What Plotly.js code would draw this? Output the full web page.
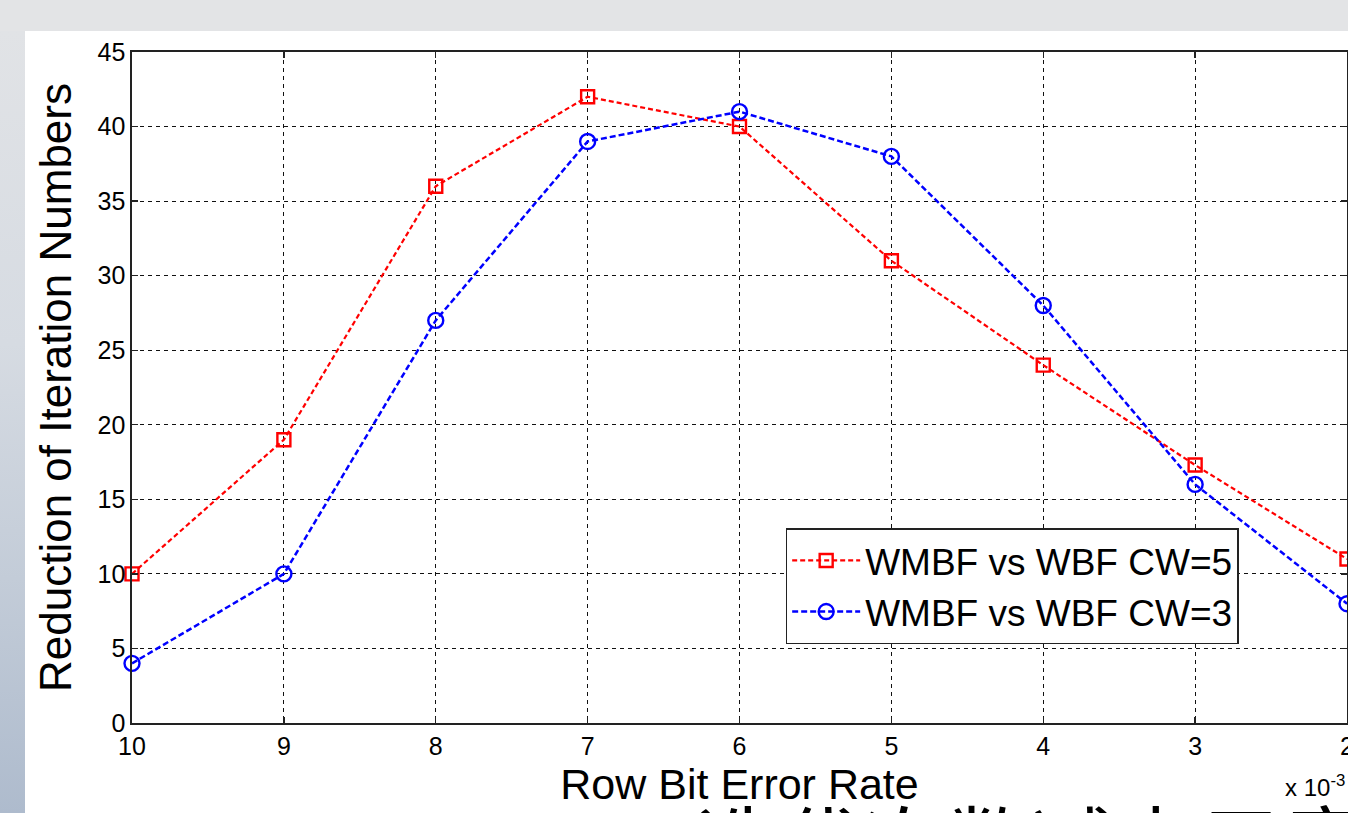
<!DOCTYPE html>
<html>
<head>
<meta charset="utf-8">
<script src="https://cdn.plot.ly/plotly-3.0.1.min.js"></script>
<style>
  html, body { margin:0; padding:0; width:1348px; height:813px; overflow:hidden; background:#e3e4e6; }
  #strip { position:absolute; left:0; top:31px; width:25px; height:782px;
           background:linear-gradient(to bottom, #e1e3e6 0%, #d6dbe2 40%, #c3ccd8 70%, #aebbcd 100%); }
  #chart { position:absolute; left:25px; top:31px; width:1450px; height:900px; }
</style>
</head>
<body>
<div id="strip"></div>
<div id="chart"></div>
<script>
// Row bit error rate (x 10^-3)
const berTicks = [10, 9, 8, 7, 6, 5, 4, 3, 2];
const cw5Values = [10, 19, 36, 42, 40, 31, 24, 17.3, 11];
const cw3Values = [4, 10, 27, 39, 41, 38, 28, 16, 8];
const seriesNames = ["WMBF vs WBF CW=5", "WMBF vs WBF CW=3"];
const yTicks = [0, 5, 10, 15, 20, 25, 30, 35, 40, 45];

const FONT = "Liberation Sans, Arial, sans-serif";

const traces = [
  {
    x: berTicks, y: cw5Values, name: seriesNames[0], type: "scatter", mode: "lines+markers",
    line: {color: "#ff0000", width: 2.2, dash: "5px,3px"},
    marker: {symbol: "square-open", size: 13, color: "#ff0000", line: {width: 2.4, color: "#ff0000"}},
    cliponaxis: false
  },
  {
    x: berTicks, y: cw3Values, name: seriesNames[1], type: "scatter", mode: "lines+markers",
    line: {color: "#0000ff", width: 2.5, dash: "6px,3px"},
    marker: {symbol: "circle-open", size: 15, color: "#0000ff", line: {width: 2.4, color: "#0000ff"}},
    cliponaxis: false
  }
];

const axisCommon = {
  showline: true, linecolor: "#222", linewidth: 1.6, mirror: "ticks",
  ticks: "inside", ticklen: 6, tickcolor: "#222", tickwidth: 1.4,
  showgrid: true, gridcolor: "#111", gridwidth: 1.1, griddash: "4px,4px",
  zeroline: false, automargin: false,
  tickfont: {family: FONT, size: 25, color: "#000"}
};

const layout = {
  width: 1450, height: 900,
  margin: {l: 107, r: 128, t: 21, b: 208},
  paper_bgcolor: "#ffffff", plot_bgcolor: "#ffffff",
  showlegend: true,
  legend: {
    x: 0.538, y: 0.290, xanchor: "left", yanchor: "top",
    bgcolor: "#ffffff", bordercolor: "#222", borderwidth: 1.5,
    font: {family: FONT, size: 37, color: "#000"},
    itemwidth: 68, tracegroupgap: 0
  },
  xaxis: Object.assign({}, axisCommon, {
    range: [10, 2], tickvals: berTicks, ticktext: berTicks.map(String),
    title: {text: "Row Bit Error Rate", font: {family: FONT, size: 43, color: "#000"}, standoff: 8}
  }),
  yaxis: Object.assign({}, axisCommon, {
    range: [0, 45], tickvals: yTicks,
    title: {text: "Reduction of Iteration Numbers", font: {family: FONT, size: 44, color: "#000"}, standoff: 12}
  }),
  annotations: [
    {xref: "paper", yref: "paper", x: 1.0, y: -0.094, xanchor: "right", yanchor: "middle",
     text: "x 10<sup>-3</sup>", showarrow: false, font: {family: FONT, size: 24, color: "#000"}},
    {xref: "paper", yref: "paper", x: 0.462, y: -0.082, xanchor: "left", yanchor: "top",
     text: "迭代次数减少示意图", showarrow: false,
     font: {family: "Noto Sans CJK SC", size: 84, color: "#000"}}
  ]
};

Plotly.newPlot("chart", traces, layout, {displayModeBar: false, staticPlot: true});
</script>
</body>
</html>
